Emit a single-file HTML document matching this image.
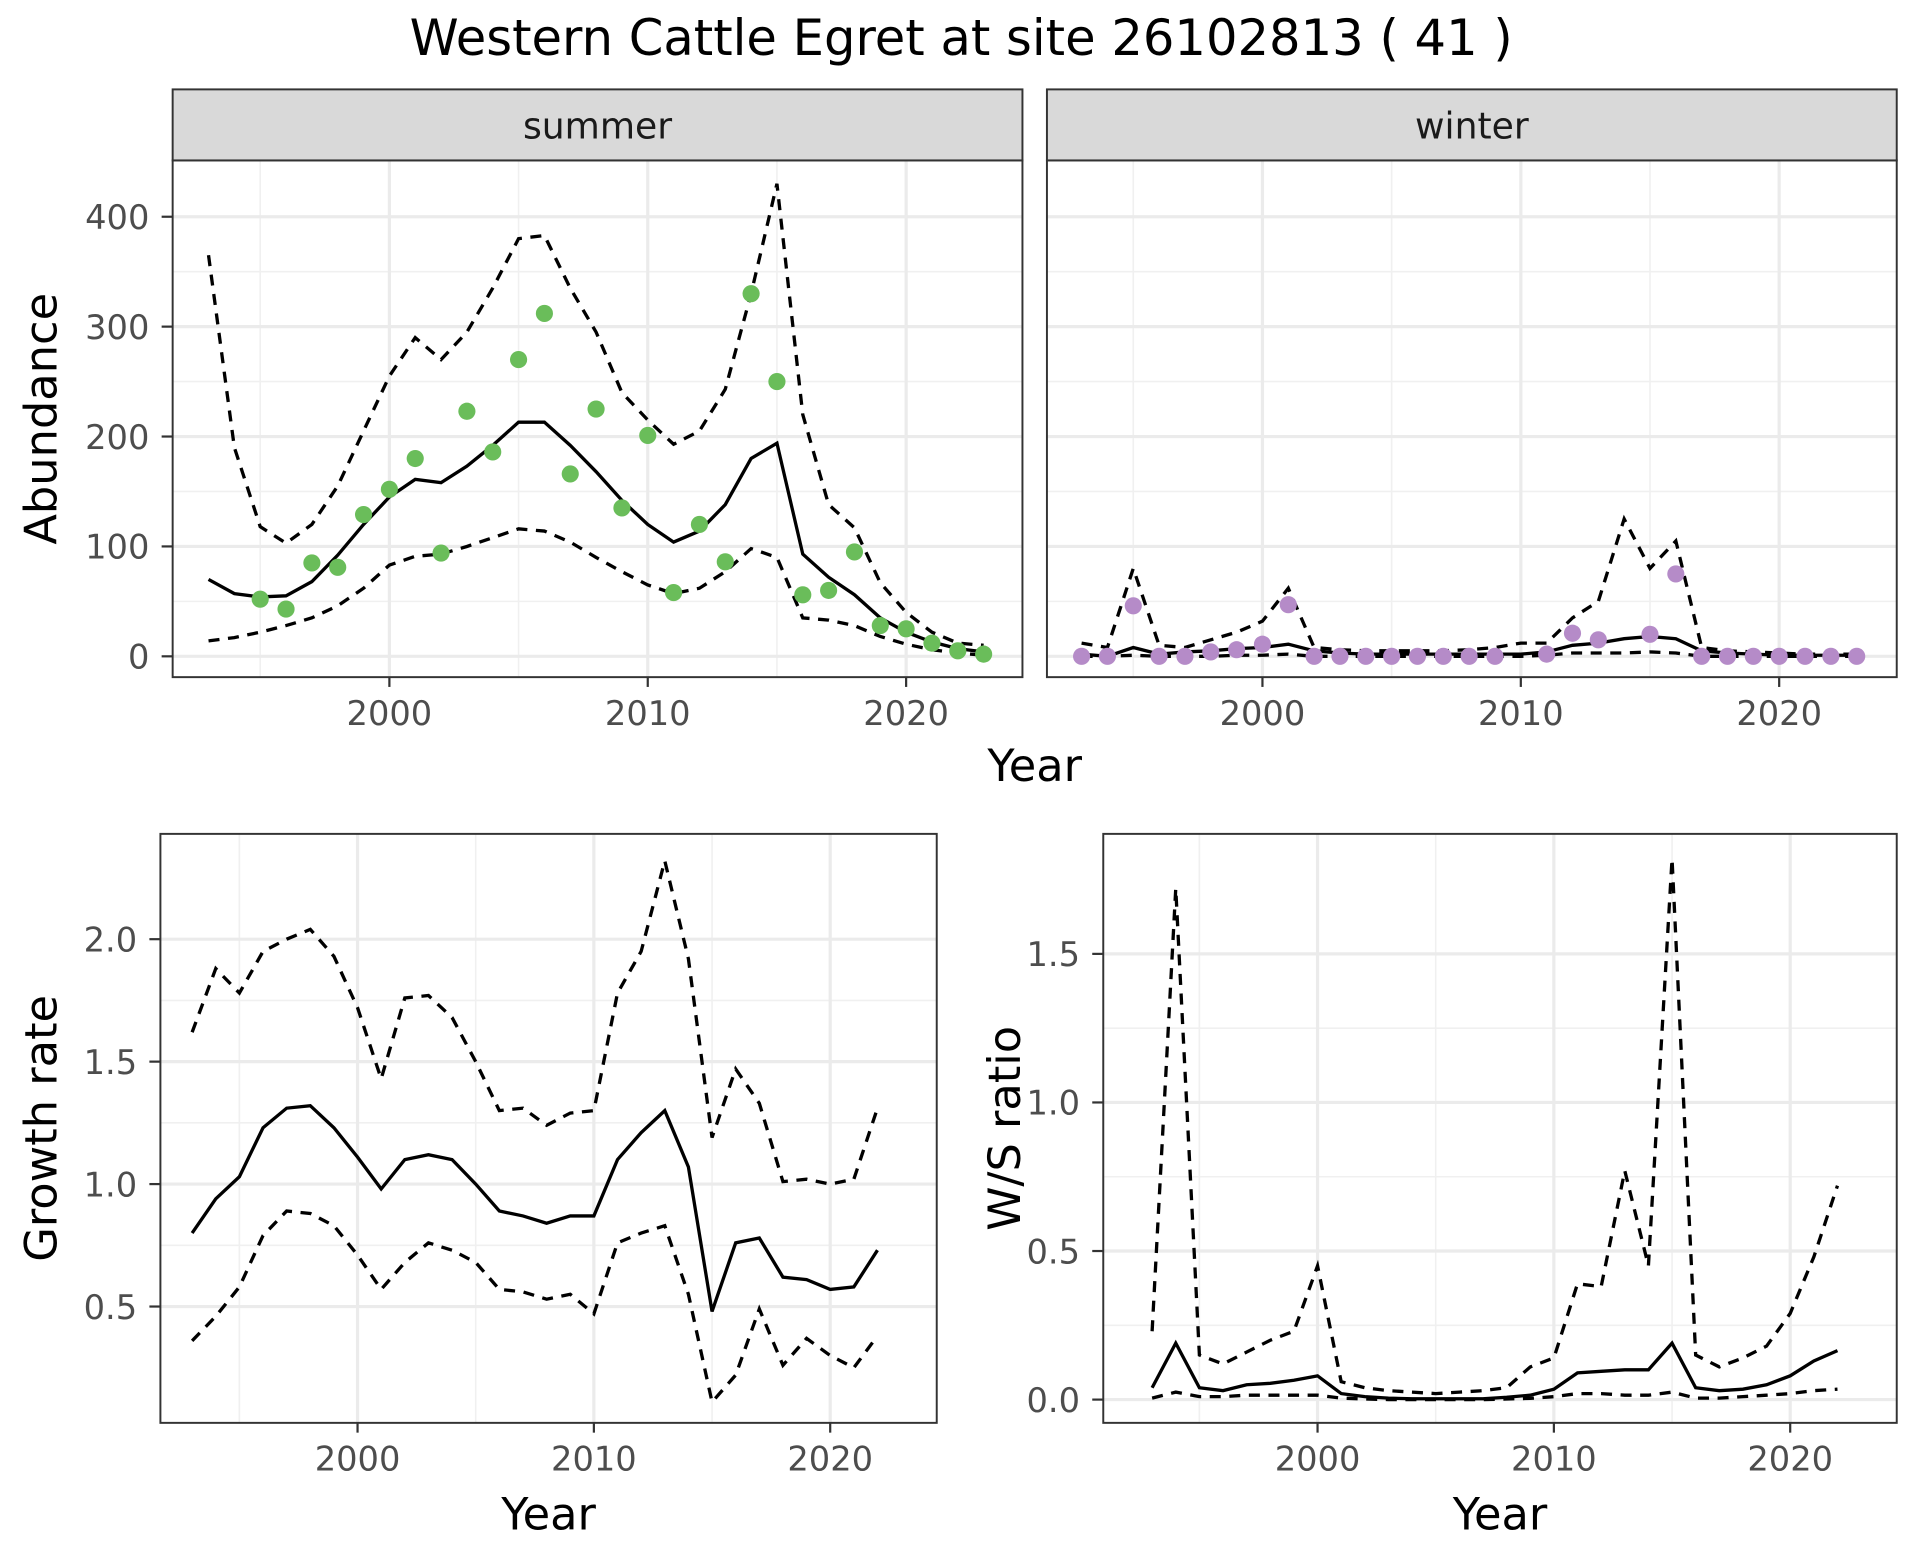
<!DOCTYPE html>
<html><head><meta charset="utf-8"><style>
html,body{margin:0;padding:0;background:#fff}
svg{display:block;font-family:"DejaVu Sans","Liberation Sans",sans-serif}
</style></head><body>
<svg id="chart" width="1920" height="1560" viewBox="0 0 1568 1274" xmlns="http://www.w3.org/2000/svg">
<text x="785" y="45" text-anchor="middle" font-size="40.5">Western Cattle Egret at site 26102813 ( 41 )</text>
</svg>
<script>
const yearsA = [1993,1994,1995,1996,1997,1998,1999,2000,2001,2002,2003,2004,2005,2006,2007,2008,2009,2010,2011,2012,2013,2014,2015,2016,2017,2018,2019,2020,2021,2022,2023];
const summerMean = [70,57,54,55,68,92,120,145,161,158,173,192,213,213,192,168,142,120,104,114,138,180,194,93,72,56,35,22,13,7,4];
const summerUpper = [365,190,118,103,120,155,205,255,290,270,295,335,380,383,335,295,240,215,193,205,243,330,430,220,138,117,67,40,22,12,10];
const summerLower = [14,17,22,28,35,46,62,83,91,93,100,108,116,114,104,90,77,65,57,62,77,98,90,35,33,28,18,11,6,3,1];
const summerObs = [null,null,52,43,85,81,129,152,180,94,223,186,270,312,166,225,135,201,58,120,86,330,250,56,60,95,28,25,12,5,2];
const winterMean = [2,0,8,2,4,5,7,8,11,5,3,2,2,2,2,2,2,2,4,10,12,16,18,16,5,3,2,1,1,1,1];
const winterUpper = [12,8,80,10,8,15,22,32,62,8,6,5,5,5,5,6,8,12,12,35,50,125,80,105,8,5,4,3,2,2,2];
const winterLower = [0,0,1,0,0,0,1,1,2,0,0,0,0,0,0,0,0,0,1,3,3,3,4,3,0,0,0,0,0,0,0];
const winterObs = [0,0,46,0,0,4,6,11,47,0,0,0,0,0,0,0,0,null,2,21,15,null,20,75,0,0,0,0,0,0,0];
const yearsB = [1993,1994,1995,1996,1997,1998,1999,2000,2001,2002,2003,2004,2005,2006,2007,2008,2009,2010,2011,2012,2013,2014,2015,2016,2017,2018,2019,2020,2021,2022];
const growthMean = [0.80,0.94,1.03,1.23,1.31,1.32,1.23,1.11,0.98,1.10,1.12,1.10,1.00,0.89,0.87,0.84,0.87,0.87,1.10,1.21,1.30,1.07,0.48,0.76,0.78,0.62,0.61,0.57,0.58,0.73];
const growthUpper = [1.62,1.88,1.78,1.95,2.00,2.04,1.93,1.72,1.43,1.76,1.77,1.68,1.50,1.30,1.31,1.24,1.29,1.30,1.78,1.95,2.32,1.92,1.19,1.47,1.33,1.01,1.02,1.00,1.02,1.31];
const growthLower = [0.36,0.46,0.58,0.79,0.89,0.88,0.83,0.71,0.57,0.68,0.76,0.73,0.68,0.57,0.56,0.53,0.55,0.47,0.76,0.80,0.83,0.55,0.11,0.22,0.49,0.26,0.37,0.30,0.25,0.38];
const ratioMean = [0.04,0.19,0.04,0.03,0.05,0.055,0.065,0.08,0.02,0.01,0.005,0.003,0.003,0.003,0.003,0.008,0.015,0.035,0.09,0.095,0.10,0.10,0.19,0.04,0.03,0.035,0.05,0.08,0.13,0.165];
const ratioUpper = [0.23,1.72,0.15,0.12,0.16,0.20,0.23,0.45,0.06,0.04,0.03,0.025,0.02,0.025,0.03,0.04,0.11,0.14,0.39,0.38,0.77,0.45,1.82,0.15,0.11,0.14,0.18,0.29,0.48,0.72];
const ratioLower = [0.005,0.025,0.01,0.01,0.015,0.015,0.015,0.015,0.005,0.002,0,0,0,0,0,0.002,0.004,0.01,0.02,0.02,0.015,0.015,0.025,0.005,0.005,0.01,0.015,0.02,0.03,0.035];
const xTicks = [2000,2010,2020];
const xMinor = [1995,2005,2015];
const abundTicks = [0,100,200,300,400];
const abundMinor = [50,150,250,350];
const growthTicks = [0.5,1.0,1.5,2.0];
const growthMinor = [0.75,1.25,1.75];
const ratioTicks = [0,0.5,1.0,1.5];
const ratioMinor = [0.25,0.75,1.25];

const svg = document.getElementById('chart');
const NS = 'http://www.w3.org/2000/svg';
function mk(tag, attrs, parent){const e=document.createElementNS(NS,tag);for(const k in attrs)e.setAttribute(k,attrs[k]);(parent||svg).appendChild(e);return e;}
function lin(d0,d1,r0,r1){return v=>r0+(v-d0)*(r1-r0)/(d1-d0);}

function panel(cfg){
  const g = mk('g',{});
  
  
  const {x0,x1,y0,y1,xs,ys} = cfg;
  mk('rect',{x:x0,y:y0,width:x1-x0,height:y1-y0,fill:'#fff'},g);
  cfg.yMinor.forEach(v=>mk('line',{x1:x0,x2:x1,y1:ys(v),y2:ys(v),stroke:'#f0f0f0','stroke-width':1.3},g));
  xMinor.forEach(v=>mk('line',{x1:xs(v),x2:xs(v),y1:y0,y2:y1,stroke:'#f0f0f0','stroke-width':1.3},g));
  cfg.yTicks.forEach(v=>mk('line',{x1:x0,x2:x1,y1:ys(v),y2:ys(v),stroke:'#ebebeb','stroke-width':2.6},g));
  xTicks.forEach(v=>mk('line',{x1:xs(v),x2:xs(v),y1:y0,y2:y1,stroke:'#ebebeb','stroke-width':2.6},g));
  const lines=[[cfg.upper,'9,7','upper-bound-line'],[cfg.lower,'9,7','lower-bound-line'],[cfg.mean,null,'mean-line']];
  lines.forEach(([arr,dash,nm])=>{
    const pts=arr.map((v,i)=>xs(cfg.years[i]).toFixed(1)+','+ys(v).toFixed(1)).join(' ');
    const a={points:pts,fill:'none',stroke:'#000','stroke-width':2.7};
    if(dash)a['stroke-dasharray']=dash;
    const p=mk('polyline',a,g);
    
    
  });
  if(cfg.obs){cfg.obs.forEach((v,i)=>{ if(v===null)return;
    const c=mk('circle',{cx:xs(cfg.years[i]),cy:ys(v),r:7,fill:cfg.color},g);
    
    
  });}
  mk('rect',{x:x0,y:y0,width:x1-x0,height:y1-y0,fill:'none',stroke:'#333','stroke-width':1.6},g);
  xTicks.forEach(v=>{mk('line',{x1:xs(v),x2:xs(v),y1:y1,y2:y1+8,stroke:'#333','stroke-width':1.8},g);
    const t=mk('text',{x:xs(v),y:y1+39,'text-anchor':'middle','font-size':27.5,fill:'#4d4d4d'},g);t.textContent=v;});
  if(cfg.yLabels){cfg.yTicks.forEach(v=>{mk('line',{x1:x0-9,x2:x0,y1:ys(v),y2:ys(v),stroke:'#333','stroke-width':1.8},g);
    const t=mk('text',{x:x0-19,y:ys(v)+10,'text-anchor':'end','font-size':27.5,fill:'#4d4d4d'},g);t.textContent=cfg.fmt(v);});}
  if(cfg.strip){mk('rect',{x:x0,y:73,width:x1-x0,height:y0-73,fill:'#d9d9d9',stroke:'#333','stroke-width':1.6},g);
    const t=mk('text',{x:(x0+x1)/2,y:113,'text-anchor':'middle','font-size':29.5,fill:'#1a1a1a'},g);t.textContent=cfg.strip;}
  if(cfg.ytitle){const t=mk('text',{x:0,y:0,'text-anchor':'middle','font-size':36.5,transform:`translate(${cfg.ytx},${(y0+y1)/2}) rotate(-90)`},g);t.textContent=cfg.ytitle;}
  if(cfg.xtitle){const t=mk('text',{x:(x0+x1)/2,y:cfg.xty,'text-anchor':'middle','font-size':36.5},g);t.textContent='Year';}
}
const f0=v=>String(v), f1=v=>v.toFixed(1);
const ysA=lin(0,400,536,177);
panel({name:'summer-panel',x0:141,x1:835,y0:131,y1:553,xs:lin(2000,2020,318,740),ys:ysA,years:yearsA,mean:summerMean,upper:summerUpper,lower:summerLower,obs:summerObs,color:'#6abd5a',yTicks:abundTicks,yMinor:abundMinor,yLabels:true,fmt:f0,strip:'summer',ytitle:'Abundance',ytx:46});
panel({name:'winter-panel',x0:855,x1:1549,y0:131,y1:553,xs:lin(2000,2020,1031,1453),ys:ysA,years:yearsA,mean:winterMean,upper:winterUpper,lower:winterLower,obs:winterObs,color:'#b58bc8',yTicks:abundTicks,yMinor:abundMinor,yLabels:false,strip:'winter'});
const yt=mk('text',{x:845,y:638,'text-anchor':'middle','font-size':36.5});yt.textContent='Year';


panel({name:'growth-rate-panel',x0:131,x1:765,y0:681,y1:1162,xs:lin(2000,2020,292,678),ys:lin(0.5,2.0,1067,767),years:yearsB,mean:growthMean,upper:growthUpper,lower:growthLower,yTicks:growthTicks,yMinor:growthMinor,yLabels:true,fmt:f1,ytitle:'Growth rate',ytx:46,xtitle:true,xty:1249});
panel({name:'ws-ratio-panel',x0:901,x1:1549,y0:681,y1:1162,xs:lin(2000,2020,1076,1462),ys:lin(0,1.5,1143,779),years:yearsB,mean:ratioMean,upper:ratioUpper,lower:ratioLower,yTicks:ratioTicks,yMinor:ratioMinor,yLabels:true,fmt:f1,ytitle:'W/S ratio',ytx:833,xtitle:true,xty:1249});
</script>
</body></html>
